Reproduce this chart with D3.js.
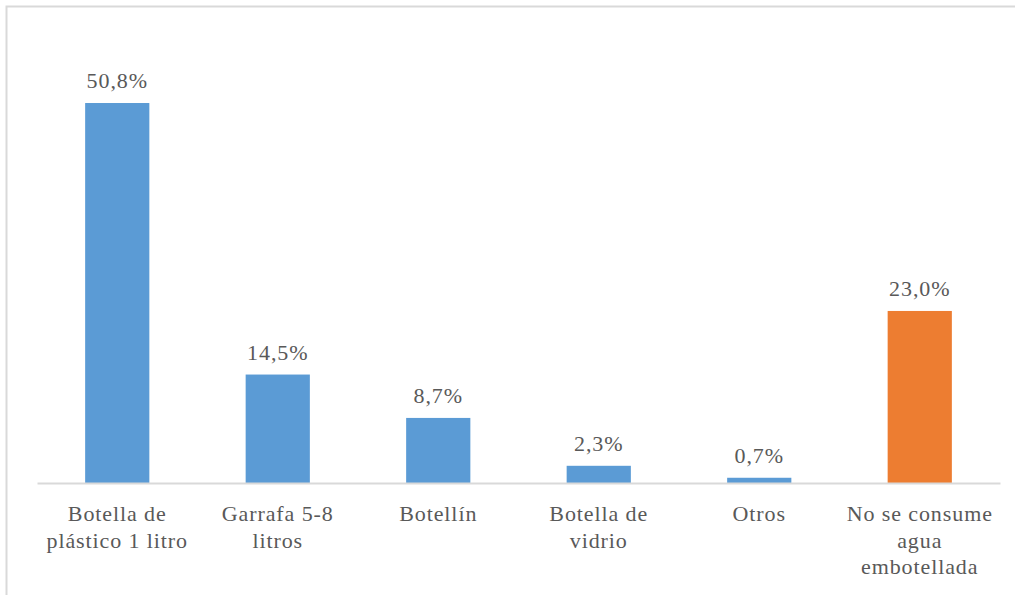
<!DOCTYPE html>
<html>
<head>
<meta charset="utf-8">
<script src="https://cdn.jsdelivr.net/npm/d3@7"></script>
</head>
<body style="margin:0">
<svg id="s" width="1015" height="595"></svg>
<script>
// Tipos de envase de agua embotellada (porcentaje de hogares)
const categories = [
  "Botella de\nplástico 1 litro",
  "Garrafa 5-8\nlitros",
  "Botellín",
  "Botella de\nvidrio",
  "Otros",
  "No se consume\nagua\nembotellada"
];
const values = [50.8, 14.5, 8.7, 2.3, 0.7, 23.0];
const valueLabels = ["50,8%", "14,5%", "8,7%", "2,3%", "0,7%", "23,0%"];
const barColors = ["#5B9BD5", "#5B9BD5", "#5B9BD5", "#5B9BD5", "#5B9BD5", "#ED7D31"];

const W = 1015, H = 595;
const baseY = 483;
const textColor = "#595959";
const fam = '"Liberation Serif", "Tinos", "Times New Roman", "Nimbus Roman", "FreeSerif"';
const fontSize = "22px";
const spacing = "0.9px";

const svg = d3.select("#s");

// outer chart frame
svg.append("rect")
  .attr("x", 6.5).attr("y", 6.5)
  .attr("width", W + 20).attr("height", H + 20)
  .attr("fill", "none")
  .attr("stroke", "#D9D9D9")
  .attr("stroke-width", 2);

const x = d3.scaleBand()
  .domain(categories)
  .range([37, 1000])
  .paddingInner(0.6)
  .paddingOuter(0.3);

const y = d3.scaleLinear()
  .domain([0, 55])
  .range([baseY, baseY - 55 * 7.48]);

// bars
svg.selectAll("rect.bar")
  .data(values)
  .join("rect")
  .attr("class", "bar")
  .attr("x", (d, i) => x(categories[i]))
  .attr("y", d => y(d))
  .attr("width", x.bandwidth())
  .attr("height", d => y(0) - y(d))
  .attr("fill", (d, i) => barColors[i]);

// baseline (category axis line)
const xAxis = d3.axisBottom(x).tickSize(0).tickSizeOuter(0).tickFormat("");
const axisG = svg.append("g")
  .attr("transform", `translate(0,${baseY})`)
  .call(xAxis);
axisG.select(".domain")
  .attr("stroke", "#D9D9D9")
  .attr("stroke-width", 2);
axisG.selectAll(".tick text").remove();

// value labels
svg.selectAll("text.val")
  .data(values)
  .join("text")
  .attr("class", "val")
  .attr("x", (d, i) => x(categories[i]) + x.bandwidth() / 2)
  .attr("y", d => y(d) - 15)
  .attr("text-anchor", "middle")
  .style("font-family", fam)
  .style("font-size", fontSize)
  .style("letter-spacing", spacing)
  .attr("fill", textColor)
  .text((d, i) => valueLabels[i]);

// category labels, one text per line
categories.forEach(c => {
  c.split("\n").forEach((line, i) => {
    svg.append("text")
      .attr("x", x(c) + x.bandwidth() / 2)
      .attr("y", baseY + 38 + i * 26.5)
      .attr("text-anchor", "middle")
      .style("font-family", fam)
      .style("font-size", fontSize)
      .style("letter-spacing", spacing)
      .attr("fill", textColor)
      .text(line);
  });
});
</script>
</body>
</html>
